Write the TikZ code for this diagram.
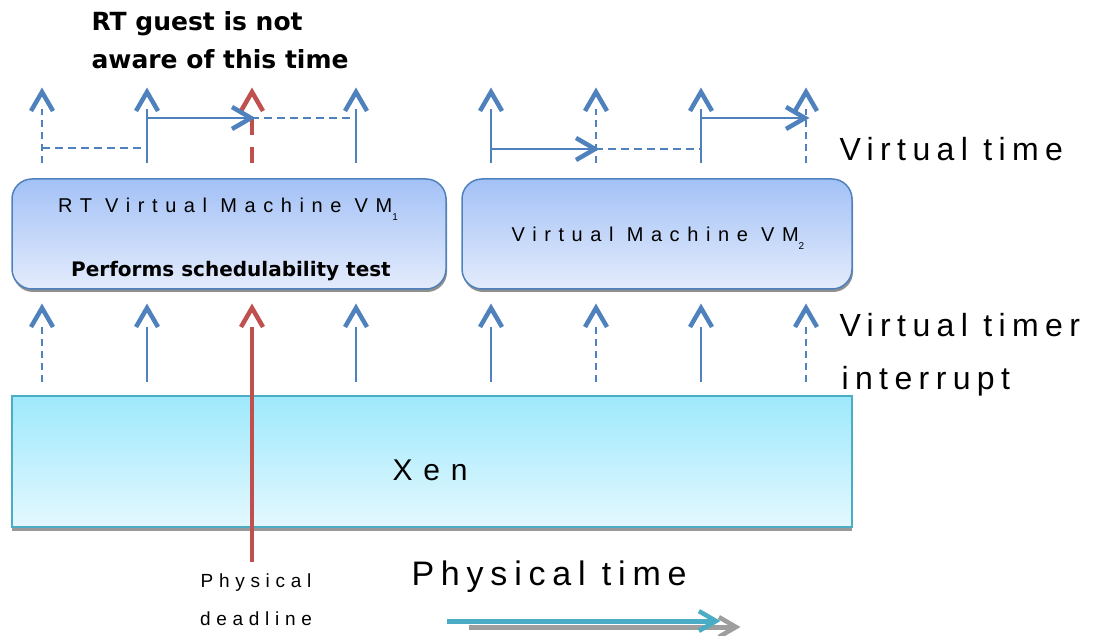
\documentclass[tikz,border=0pt]{standalone}
\usepackage{fontspec}
\setmainfont{Liberation Sans}
\newfontfamily\boldsans{DejaVu Sans}
\usetikzlibrary{arrows.meta, positioning, shadows}

\definecolor{vblue}{RGB}{79,129,189}
\definecolor{vred}{RGB}{192,80,77}
\definecolor{xteal}{RGB}{75,172,198}
\definecolor{vmtop}{RGB}{163,193,246}
\definecolor{vmbot}{RGB}{228,236,252}
\definecolor{xentop}{RGB}{158,233,252}
\definecolor{xenbot}{RGB}{228,248,254}

\tikzset{
    chev/.pic={\draw[line width=4.5pt, line join=miter] (-11,19) -- (0,0) -- (11,19);}
}

\begin{document}
\begin{tikzpicture}[x=1pt, y=-1pt,
    vmbox/.style={draw=vblue, line width=1.5pt, rounded corners=20pt, top color=vmtop, bottom color=vmbot,
        drop shadow={shadow xshift=1pt, shadow yshift=-3pt, opacity=0.8, fill=black!55}},
    xenbox/.style={draw=xteal, line width=1.5pt, top color=xentop, bottom color=xenbot,
        drop shadow={shadow xshift=0pt, shadow yshift=-4pt, opacity=0.8, fill=black!50}},
    vline/.style={draw=vblue, line width=2pt},
    vdash/.style={draw=vblue, line width=2.2pt, dash pattern=on 7pt off 5pt},
    hline/.style={draw=vblue, line width=2pt},
    hdash/.style={draw=vblue, line width=2.2pt, dash pattern=on 8pt off 5pt},
    rline/.style={draw=vred, line width=4.5pt},
    rdash/.style={draw=vred, line width=4.5pt, dash pattern=on 16pt off 12pt},
    spaced/.style={font=\fontsize{#1}{38}\selectfont\addfontfeatures{LetterSpace=20}},
    boxtext/.style={font=\fontsize{20}{24}\selectfont\addfontfeatures{LetterSpace=38}},
    boldtext/.style={font=\boldsans\bfseries\fontsize{#1}{38}\selectfont}
]
\useasboundingbox (0,0) rectangle (1095,636);

% Virtuelle Maschinen und Xen
\node[vmbox, minimum width=434pt, minimum height=110pt] (vmone) at (229,234) {};
\node[vmbox, minimum width=390pt, minimum height=110pt] (vmtwo) at (657,234) {};
\node[xenbox, minimum width=840pt, minimum height=131pt] (xen) at (432,461.5) {};

% Beschriftungen der Kästen
\node[boxtext] (vmonelabel) at (228,209) {RT Virtual Machine VM\raisebox{-8pt}{\fontsize{10}{12}\selectfont 1}};
\node[boldtext=20] (schedlabel) at (231,271) {Performs schedulability test};
\node[boxtext] (vmtwolabel) at (658,238) {Virtual Machine VM\raisebox{-8pt}{\fontsize{10}{12}\selectfont 2}};
\node[font=\fontsize{30}{36}\selectfont\addfontfeatures{LetterSpace=36}] (xenlabel) at (430,470) {Xen};

% Zeitpunkte oben und unten
\foreach \n/\x/\c in {1/42/vblue,2/147/vblue,3/252/vred,4/356/vblue,5/491/vblue,6/596/vblue,7/701/vblue,8/806/vblue}{
    \coordinate (vb\n) at (\x,163);
    \coordinate (vt\n) at (\x,109);
    \coordinate (ib\n) at (\x,382);
    \coordinate (it\n) at (\x,327);
    \pic[color=\c] at (\x,92) {chev};
    \pic[color=\c] at (\x,308) {chev};
}
\foreach \n in {1,6,8}{
    \draw[vdash] (vb\n) -- (vt\n);
    \draw[vdash] (ib\n) -- (it\n);
}
\foreach \n in {2,4,5,7}{
    \draw[vline] (vb\n) -- (vt\n);
    \draw[vline] (ib\n) -- (it\n);
}
\draw[rdash] (vb3) -- (vt3);
\coordinate (dl) at (252,562);
\draw[rline] (dl) -- (it3);

% Verschiebungen der virtuellen Zeit
\coordinate (a1) at (42,148);
\coordinate (a2) at (147,148);
\coordinate (b1) at (147,118);
\coordinate (b2) at (251,118);
\coordinate (b3) at (356,118);
\coordinate (c1) at (491,149);
\coordinate (c2) at (595,149);
\coordinate (c3) at (701,149);
\coordinate (d1) at (701,118);
\coordinate (d2) at (805,118);
\draw[hdash] (a1) -- (a2);
\draw[hline] (b1) -- (b2);
\draw[hdash] (b2) -- (b3);
\draw[hline] (c1) -- (c2);
\draw[hdash] (c2) -- (c3);
\draw[hline] (d1) -- (d2);
\foreach \p in {b2,c2,d2}
    \pic[color=vblue, rotate=-90] at (\p) {chev};

% Physikalische Zeit
\coordinate (g1) at (469,627);
\coordinate (g2) at (736,627);
\coordinate (p1) at (447,621);
\coordinate (p2) at (716,621);
\draw[draw=black!38, line width=5pt] (g1) -- (g2);
\pic[color=black!38, rotate=-90, scale=0.9] at (g2) {chev};
\draw[draw=xteal, line width=5pt] (p1) -- (p2);
\pic[color=xteal, rotate=-90, scale=0.9] at (p2) {chev};

% Texte
\node[boldtext=25, anchor=north west, align=left] (note) at (88,8) {RT guest is not\\aware of this time};
\node[spaced=32, anchor=west] (vtime) at (836,149) {Virtual time};
\node[spaced=32, anchor=west] (vtimer) at (836,325) {Virtual timer};
\node[spaced=32, anchor=west] (intr) at (838,381) {interrupt};
\node[spaced=34, anchor=west] (ptime) at (408,577) {Physical time};
\node[font=\fontsize{19}{38}\selectfont\addfontfeatures{LetterSpace=30}, align=center] (pdeadline) at (256,600) {Physical\\deadline};
\end{tikzpicture}
\end{document}
